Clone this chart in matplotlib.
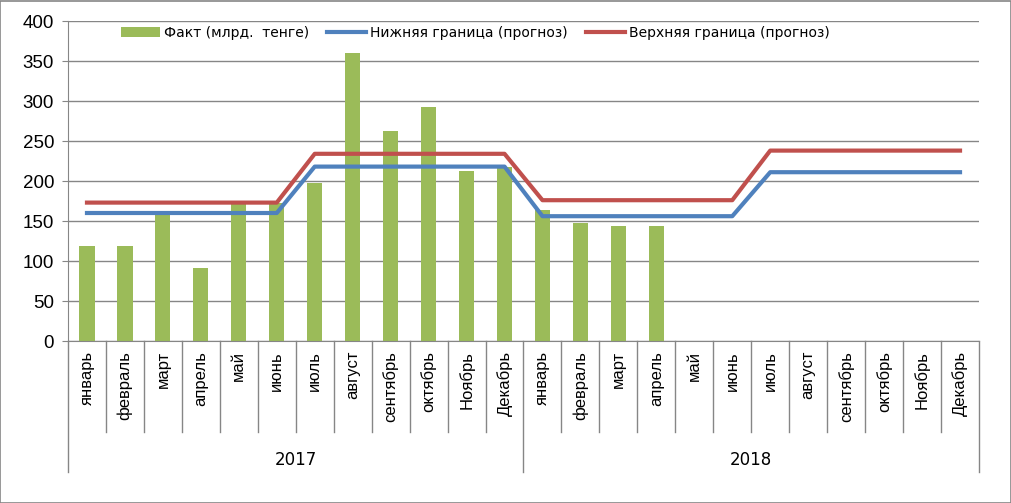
import numpy as np
import matplotlib.pyplot as plt
from matplotlib.patches import Rectangle

# data
months = ['январь', 'февраль', 'март', 'апрель', 'май', 'июнь', 'июль', 'август',
          'сентябрь', 'октябрь', 'Ноябрь', 'Декабрь']
years = ['2017', '2018']
fact = [119, 119, 160, 91, 172, 172, 198, 360, 263, 292, 213, 217,
        164, 148, 144, 144, np.nan, np.nan, np.nan, np.nan, np.nan, np.nan, np.nan, np.nan]
lower = [160] * 6 + [218] * 6 + [156] * 6 + [211] * 6
upper = [173] * 6 + [234] * 6 + [176] * 6 + [238] * 6

labels = months * len(years)
x = np.arange(len(labels))

fig = plt.figure(figsize=(10.12, 5.03), dpi=100)
W, H = 1012, 503
ax = fig.add_axes([68 / W, (H - 341) / H, (979 - 68) / W, 320 / H])

b = ax.bar(x, fact, width=0.4, color='#9BBB59', label='Факт (млрд.  тенге)', zorder=2)
l1, = ax.plot(x, lower, color='#4F81BD', lw=3, label='Нижняя граница (прогноз)', zorder=3)
l2, = ax.plot(x, upper, color='#C0504D', lw=3, label='Верхняя граница (прогноз)', zorder=3)

ax.set_xlim(-0.5, len(labels) - 0.5)
ax.set_ylim(0, 400)
ax.set_yticks(range(0, 401, 50))
ax.tick_params(axis='y', labelsize=13.5, length=4, color='#868686', pad=6)
for t in ax.get_yticklabels():
    t.set_family('Liberation Sans')
ax.set_xticks([])
ax.grid(axis='y', color='#868686', lw=1, zorder=0)
for s in ['top', 'right']:
    ax.spines[s].set_visible(False)
ax.spines['left'].set_color('#868686')
ax.spines['bottom'].set_color('#868686')

# category axis with month and year rows
def ypx(py):
    return (H - py) / H

def xfig(v):
    return ax.transData.transform((v, 0))[0] / W

for i in range(len(labels) + 1):
    bottom = 472 if i % 12 == 0 else 432
    xf = xfig(i - 0.5)
    fig.add_artist(plt.Line2D([xf, xf], [ypx(341), ypx(bottom)], color='#868686', lw=1))
for i, lab in enumerate(labels):
    fig.text(xfig(i), ypx(351), lab, rotation=90, ha='center', va='top', fontsize=12,
             family='Liberation Sans')
for j, yr in enumerate(years):
    fig.text(xfig(j * 12 + 5.5), ypx(460), yr, ha='center', va='center', fontsize=12,
             family=['Liberation Sans Narrow', 'DejaVu Sans'])

ax.legend([b, l1, l2], [b.get_label(), l1.get_label(), l2.get_label()],
          loc='center', bbox_to_anchor=(0.447, 0.963), ncol=3, frameon=False,
          fontsize=10, handlelength=2.8, columnspacing=1.3, handletextpad=0.3)

fig.add_artist(Rectangle((0.5 / W, 0.5 / H), 1 - 1.5 / W, 1 - 1.5 / H, transform=fig.transFigure,
                         fill=False, edgecolor='#868686', lw=1.2))

fig.savefig('out.png', dpi=100)
